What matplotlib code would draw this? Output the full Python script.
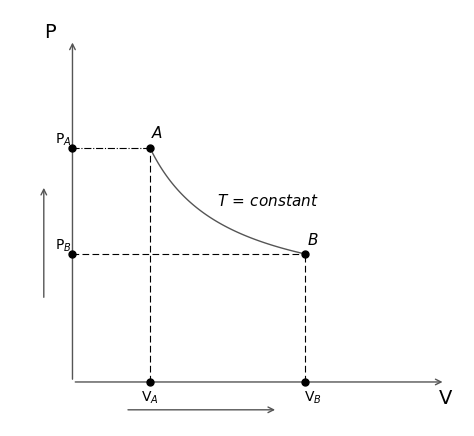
import matplotlib.pyplot as plt
import numpy as np

# state points (V, P) on an isotherm P*V = const
V_A, V_B = 1.0, 3.0
P_A, P_B = 3.0, 1.0
P0 = -1.415  # where the axes cross

fig = plt.figure(figsize=(4.74, 4.36), dpi=100)
ax = fig.add_axes([0, 0, 1, 1])
ax.set_xlim(-0.935, 5.18)
ax.set_ylim(-2.434, 5.79)
ax.axis('off')

k = '#555555'
ax.annotate('', xy=(0, 5.04), xytext=(0, P0),
            arrowprops=dict(arrowstyle='->', color=k, lw=1))
ax.annotate('', xy=(4.81, P0), xytext=(0, P0),
            arrowprops=dict(arrowstyle='->', color=k, lw=1))
ax.text(-0.29, 5.17, 'P', fontsize=14, ha='center', va='center')
ax.text(4.81, -1.72, 'V', fontsize=14, ha='center', va='center')

# isotherm
v = np.linspace(V_A, V_B, 100)
ax.plot(v, P_A * V_A / v, color=k, lw=1)

# guide lines
ax.plot([0, V_A], [P_A, P_A], color='k', lw=0.8, ls='-.')
ax.plot([0, V_B], [P_B, P_B], color='k', lw=0.8, ls=(0, (6, 3)))
ax.plot([V_A, V_A], [P0, P_A], color='k', lw=0.8, ls=(0, (6, 3)))
ax.plot([V_B, V_B], [P0, P_B], color='k', lw=0.8, ls=(0, (6, 3)))

ax.plot([V_A, V_B, 0, 0, V_A, V_B], [P_A, P_B, P_A, P_B, P0, P0],
        'ko', ms=5, zorder=5)

ax.text(V_A + 0.09, P_A + 0.28, 'A', fontsize=11, style='italic', ha='center', va='center')
ax.text(V_B + 0.1, P_B + 0.26, 'B', fontsize=11, style='italic', ha='center', va='center')
ax.text(2.52, 2.0, r'$T\,=\,constant$', fontsize=11, ha='center', va='center')
ax.text(-0.12, P_A + 0.15, r'P$_A$', fontsize=10, ha='center', va='center')
ax.text(-0.12, P_B + 0.15, r'P$_B$', fontsize=10, ha='center', va='center')
ax.text(V_A, -1.72, r'V$_A$', fontsize=10, ha='center', va='center')
ax.text(V_B + 0.1, -1.72, r'V$_B$', fontsize=10, ha='center', va='center')

# direction arrows
ax.annotate('', xy=(-0.37, 2.3), xytext=(-0.37, 0.13),
            arrowprops=dict(arrowstyle='->', color=k, lw=1))
ax.annotate('', xy=(2.65, -1.94), xytext=(0.68, -1.94),
            arrowprops=dict(arrowstyle='->', color=k, lw=1))

fig.savefig('out.png', dpi=100)
